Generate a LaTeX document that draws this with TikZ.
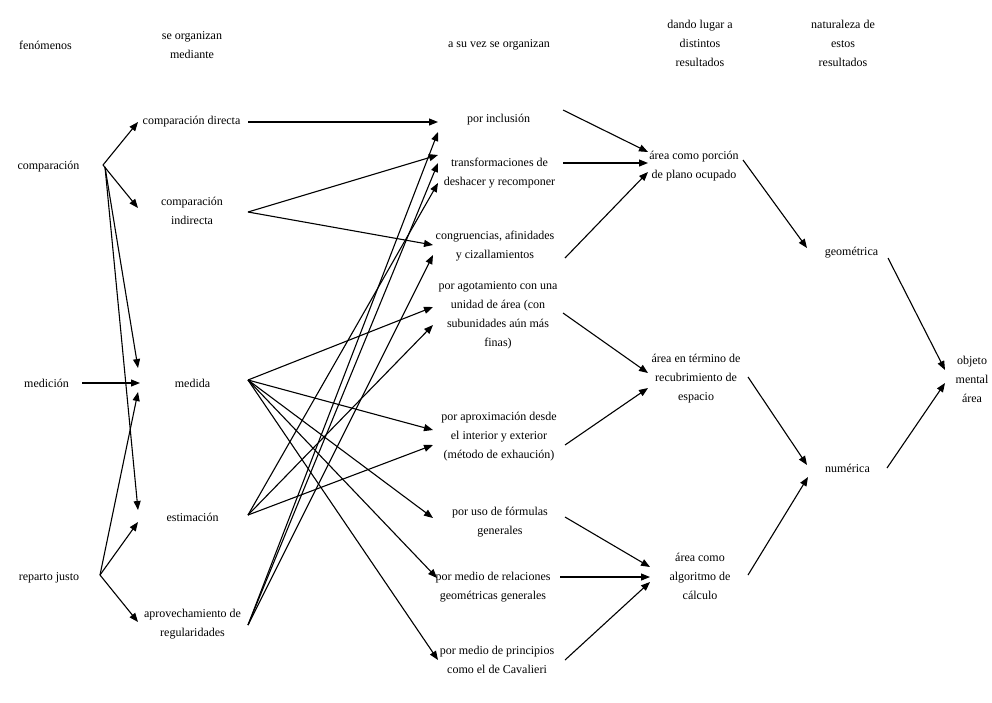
\documentclass[tikz,border=0pt]{standalone}
\usepackage{fontspec}
\setmainfont{Liberation Serif}
\usetikzlibrary{arrows.meta}
\newcommand\conn[4]{\draw[arr] ([shift={#2}]#1.center) -- ([shift={#4}]#3.center);}
\begin{document}
\begin{tikzpicture}[x=1pt,y=-1pt,
  lbl/.style={align=center,inner sep=0pt,font=\fontsize{12}{19}\selectfont,text=black},
  arr/.style={line width=1.1pt,-{Triangle[length=9pt,width=7pt]}}]
\useasboundingbox[fill=white] (0,0) rectangle (992,702);
% headers
\node[lbl] (h1) at (45.5,45) {fenómenos};
\node[lbl] (h2) at (192,45) {se organizan\\mediante};
\node[lbl] (h3) at (499,45) {a su vez se organizan};
\node[lbl] (h4) at (700,43) {dando lugar a\\distintos\\resultados};
\node[lbl] (h5) at (843,43) {naturaleza de\\estos\\resultados};
% column 1
\node[lbl] (comp) at (48.5,167) {comparación};
\node[lbl] (medicion) at (46.5,383) {medición};
\node[lbl] (reparto) at (49,578) {reparto justo};
% column 2
\node[lbl] (cdir) at (191.5,122) {comparación directa};
\node[lbl] (cind) at (192,211) {comparación\\indirecta};
\node[lbl] (medida) at (192.5,383) {medida};
\node[lbl] (estim) at (192.5,517) {estimación};
\node[lbl] (aprov) at (192.5,624) {aprovechamiento de\\regularidades};
% column 3
\node[lbl] (incl) at (498.5,120) {por inclusión};
\node[lbl] (transf) at (499.5,173) {transformaciones de\\deshacer y recomponer};
\node[lbl] (congr) at (495,246) {congruencias, afinidades\\y cizallamientos};
\node[lbl] (agot) at (498,315) {por agotamiento con una\\unidad de área (con\\subunidades aún más\\finas)};
\node[lbl] (aprox) at (499,437) {por aproximación desde\\el interior y exterior\\(método de exhaución)};
\node[lbl] (form) at (500,522) {por uso de fórmulas\\generales};
\node[lbl] (rel) at (493,587) {por medio de relaciones\\geométricas generales};
\node[lbl] (cav) at (497,660) {por medio de principios\\como el de Cavalieri};
% column 4
\node[lbl] (porc) at (694,166) {área como porción\\de plano ocupado};
\node[lbl] (recub) at (696,379) {área en término de\\recubrimiento de\\espacio};
\node[lbl] (algo) at (700,576) {área como\\algoritmo de\\cálculo};
% column 5
\node[lbl] (geom) at (851.5,253) {geométrica};
\node[lbl] (num) at (847.5,468) {numérica};
% column 6
\node[lbl] (obj) at (972,379) {objeto\\mental\\área};
% connectors col1 -> col2
\conn{comp}{(54.5,-2)}{cdir}{(-53.5,0)}
\conn{comp}{(54.5,-2)}{cind}{(-54,-3)}
\conn{comp}{(56.5,0)}{medida}{(-54.5,-15)}
\conn{comp}{(56.5,0)}{estim}{(-54.5,-7)}
\conn{medicion}{(35.5,0)}{medida}{(-52.5,0)}
\conn{reparto}{(51,-3)}{medida}{(-54.5,9)}
\conn{reparto}{(51,-3)}{estim}{(-54.5,5)}
\conn{reparto}{(51,-3)}{aprov}{(-54.5,-2)}
% col2 -> col3
\conn{cdir}{(56.5,0)}{incl}{(-60.5,2)}
\conn{cind}{(56,1)}{transf}{(-61.5,-18)}
\conn{cind}{(56,1)}{congr}{(-62,-1)}
\conn{medida}{(55.5,-3)}{agot}{(-65,-8)}
\conn{medida}{(55.5,-3)}{aprox}{(-66,-7)}
\conn{medida}{(55.5,-3)}{form}{(-67,-4)}
\conn{medida}{(55.5,-3)}{rel}{(-56,-9)}
\conn{medida}{(55.5,-3)}{cav}{(-59,0)}
\conn{estim}{(55.5,-2)}{aprox}{(-66,8)}
\conn{estim}{(55.5,-2)}{agot}{(-65,10)}
\conn{estim}{(55.5,-2)}{transf}{(-61.5,10)}
\conn{aprov}{(55.5,1)}{incl}{(-60.5,12)}
\conn{aprov}{(55.5,1)}{transf}{(-61.5,-10)}
\conn{aprov}{(55.5,1)}{congr}{(-62,9)}
% col3 -> col4
\conn{incl}{(64.5,-10)}{porc}{(-46,-14)}
\conn{transf}{(63.5,-10)}{porc}{(-46,-3)}
\conn{congr}{(70,12)}{porc}{(-46,6)}
\conn{agot}{(65,-2)}{recub}{(-48,-6)}
\conn{aprox}{(66,8)}{recub}{(-48,9)}
\conn{form}{(65,-5)}{algo}{(-50,-9)}
\conn{rel}{(67,-10)}{algo}{(-50,1)}
\conn{cav}{(68,0)}{algo}{(-50,6)}
% col4 -> col5
\conn{porc}{(49,-6)}{geom}{(-44.5,-5)}
\conn{recub}{(52,-2)}{num}{(-40.5,-3)}
\conn{algo}{(48,-1)}{num}{(-39.5,9)}
% col5 -> col6
\conn{geom}{(36.5,5)}{obj}{(-27,-9)}
\conn{num}{(39.5,0)}{obj}{(-27,4)}
\end{tikzpicture}
\end{document}
